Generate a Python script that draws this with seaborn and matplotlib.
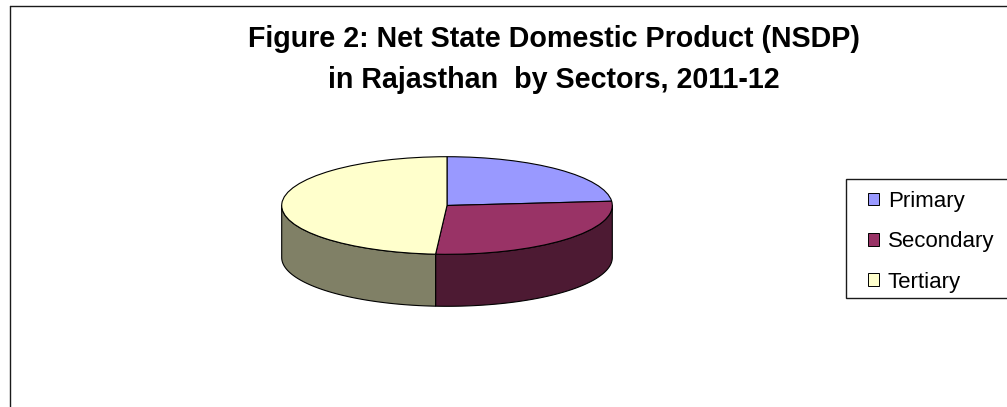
import numpy as np
import matplotlib
matplotlib.use("Agg")
import matplotlib.pyplot as plt
from matplotlib.lines import Line2D
from matplotlib.patches import Rectangle, Patch
import seaborn as sns

# Sector shares of NSDP, percent
sectors = ["Primary", "Secondary", "Tertiary"]
shares = [23.6, 27.5, 48.9]
top_colors = ["#9999FF", "#993366", "#FFFFCC"]
wall_colors = ["#4D4D80", "#4D1A33", "#808066"]
title_lines = ["Figure 2: Net State Domestic Product (NSDP)", "in Rajasthan  by Sectors, 2011-12"]

sns.set_theme(style="white")
plt.rcParams["font.family"] = ["Liberation Sans", "DejaVu Sans"]

W, H = 1007, 407
fig = plt.figure(figsize=(W / 100, H / 100), dpi=100, facecolor="white")

# Pie geometry in pixels: ellipse centre, radii and rim depth
cx, cy, rx, ry, depth = 447.0, 205.5, 165.3, 48.8, 52.0
box_l, box_r, box_t, box_b = 260, 634, 145, 320

ax = fig.add_axes([box_l / W, 1 - box_b / H, (box_r - box_l) / W, (box_b - box_t) / H])
wedges, _ = ax.pie(
    shares, colors=top_colors, startangle=90, counterclock=False,
    wedgeprops=dict(edgecolor="black", linewidth=0.8), normalize=True,
)
for w in wedges:
    w.set_zorder(3)

# Rim of the disc: only the part of each slice facing the viewer is drawn
drop = depth / ry
edges = 90 - np.cumsum([0] + shares) / np.sum(shares) * 360
for start, end, col in zip(edges[:-1], edges[1:], wall_colors):
    lo, hi = max(end, -180.0), min(start, 0.0)
    if hi <= lo:
        lo, hi = max(end + 360, -180.0), min(start + 360, 0.0)
    if hi <= lo:
        continue
    t = np.radians(np.linspace(lo, hi, 120))
    xs = np.cos(t)
    ys = np.sin(t)
    ax.fill(
        np.r_[xs, xs[::-1]], np.r_[ys, ys[::-1] - drop],
        facecolor=col, edgecolor="black", linewidth=0.8, zorder=2,
    )

ax.set_aspect("auto")
ax.set_xlim((box_l - cx) / rx, (box_r - cx) / rx)
ax.set_ylim((cy - box_b) / ry, (cy - box_t) / ry)
ax.axis("off")

# Title, two centred lines
for line, baseline in zip(title_lines, [46.7, 88.3]):
    fig.text(554 / W, 1 - baseline / H, line, ha="center", va="baseline",
             fontsize=20.6, fontweight="bold", color="black")

# Outer chart border: only the top and left edges fall inside the canvas
border = "#1a1a1a"
fig.add_artist(Line2D([10 / W, 10 / W], [0, 1 - 6 / H], color=border, lw=1.0))
fig.add_artist(Line2D([10 / W, 1], [1 - 6 / H, 1 - 6 / H], color=border, lw=1.0))

# Legend frame and entries
fig.add_artist(Rectangle((846 / W, 1 - 298 / H), 170 / W, 119 / H, transform=fig.transFigure,
                         facecolor="white", edgecolor=border, linewidth=1.0, clip_on=True))
handles = [Patch(facecolor=c, edgecolor="black", linewidth=0.7) for c in top_colors]
fig.legend(
    handles, sectors, loc="upper left", bbox_to_anchor=(868 / W, 1 - 191 / H),
    frameon=False, fontsize=16, borderpad=0, borderaxespad=0,
    handlelength=0.5, handleheight=0.5, handletextpad=0.4, labelspacing=0.87,
    labelcolor="black",
)

fig.savefig("out.png", dpi=100)
